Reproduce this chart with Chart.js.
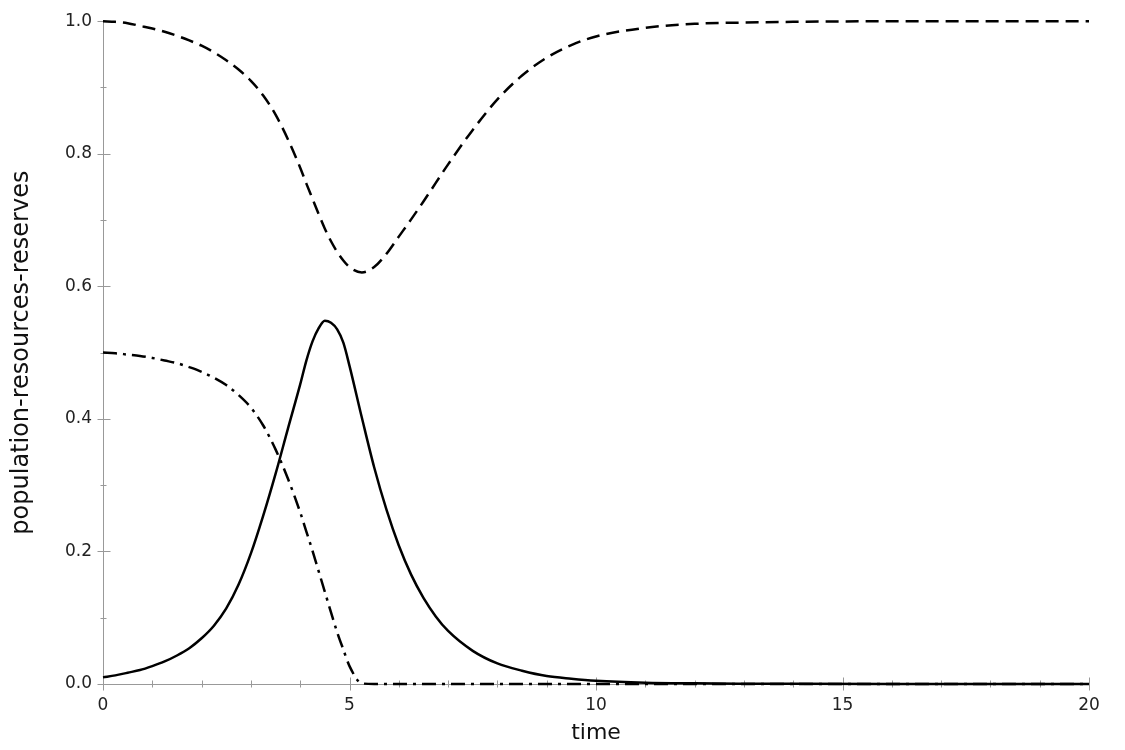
<!DOCTYPE html>
<html>
<head>
<meta charset="utf-8">
<script src="https://cdn.jsdelivr.net/npm/chart.js@4.4.1/dist/chart.umd.min.js"></script>
<style>
html,body{margin:0;padding:0;background:#fff;}
canvas{display:block;}
</style>
</head>
<body>
<canvas id="c" width="1125" height="750"></canvas>
<script>
const timeValues = [0,0.25,0.5,0.75,1,1.25,1.5,1.75,2,2.25,2.5,2.75,3,3.25,3.5,3.75,4,4.125,4.25,4.375,4.5,4.625,4.75,4.875,5,5.25,5.5,5.75,6,6.25,6.5,6.75,7,7.5,8,8.5,9,9.5,10,11,12,13,14,16,18,20];
const population = [0.010,0.013,0.017,0.021,0.027,0.034,0.043,0.054,0.069,0.088,0.114,0.150,0.197,0.254,0.317,0.385,0.452,0.488,0.517,0.537,0.548,0.545,0.535,0.515,0.480,0.402,0.327,0.263,0.209,0.165,0.130,0.102,0.080,0.050,0.031,0.020,0.012,0.008,0.005,0.002,0.001,0.0005,0.0002,0,0,0];
const resources = [1.000,0.999,0.997,0.993,0.989,0.984,0.978,0.971,0.963,0.953,0.941,0.927,0.910,0.888,0.859,0.822,0.779,0.755,0.732,0.709,0.687,0.668,0.652,0.639,0.629,0.621,0.629,0.649,0.675,0.701,0.728,0.756,0.784,0.836,0.882,0.918,0.945,0.964,0.977,0.990,0.996,0.998,0.999,1,1,1];
const reserves = [0.500,0.499,0.497,0.495,0.492,0.488,0.484,0.478,0.471,0.462,0.451,0.436,0.417,0.390,0.354,0.310,0.259,0.230,0.201,0.170,0.139,0.108,0.078,0.052,0.027,0.001,0,0,0,0,0,0,0,0,0,0,0,0,0,0,0,0,0,0,0,0];
const xMajorTicks = [0,5,10,15,20];
const yMajorTicks = [0,0.2,0.4,0.6,0.8,1.0];

const pts = arr => timeValues.map((t,i)=>({x:t,y:arr[i]}));

const tickPlugin = {
  id:'ticksPlugin',
  beforeDatasetsDraw(chart){
    const ctx = chart.ctx, xs = chart.scales.x, ys = chart.scales.y;
    const ax = Math.round(xs.left)+0.5, ay = Math.round(ys.bottom)+0.5;
    ctx.save();
    ctx.strokeStyle = '#999';
    ctx.lineWidth = 1;
    ctx.beginPath();
    for (let i=0;i<=10;i++){
      const v = i/10;
      const py = Math.round(ys.getPixelForValue(v))+0.5;
      const major = i%2===0;
      ctx.moveTo(ax-(major?6:3), py);
      ctx.lineTo(ax+(major?7:3), py);
    }
    for (let i=0;i<=20;i++){
      const px = Math.round(xs.getPixelForValue(i))+0.5;
      const major = i%5===0;
      ctx.moveTo(px, ay-(major?7:4));
      ctx.lineTo(px, ay+(major?6:3));
    }
    ctx.stroke();
    ctx.restore();
  }
};

new Chart(document.getElementById('c'), {
  type:'line',
  data:{
    datasets:[
      {label:'resources', data:pts(resources), borderColor:'#000', borderWidth:2.5, borderDash:[13,7], pointRadius:0, cubicInterpolationMode:'monotone', fill:false, clip:false},
      {label:'population', data:pts(population), borderColor:'#000', borderWidth:2.5, pointRadius:0, cubicInterpolationMode:'monotone', fill:false, clip:false},
      {label:'reserves', data:pts(reserves), borderColor:'#000', borderWidth:2.5, borderDash:[14,6,3,6], pointRadius:0, cubicInterpolationMode:'monotone', fill:false, clip:false}
    ]
  },
  options:{
    responsive:false,
    animation:false,
    devicePixelRatio:1,
    layout:{padding:{top:17,right:36,left:0,bottom:0}},
    plugins:{legend:{display:false}, tooltip:{enabled:false}},
    scales:{
      x:{
        type:'linear', min:0, max:20,
        afterBuildTicks(s){ s.ticks = xMajorTicks.map(v=>({value:v})); },
        afterFit(s){ s.height = 66; },
        grid:{display:false, drawTicks:false},
        border:{display:true, color:'#999', width:1},
        ticks:{color:'#222', font:{family:'DejaVu Sans', size:17}, padding:11, maxRotation:0, callback:v=>String(v)},
        title:{display:true, text:'time', color:'#111', font:{family:'DejaVu Sans', size:22}, padding:{top:0,bottom:4}}
      },
      y:{
        type:'linear', min:0, max:1,
        afterBuildTicks(s){ s.ticks = yMajorTicks.map(v=>({value:v})); },
        afterFit(s){ s.width = 103; },
        grid:{display:false, drawTicks:false},
        border:{display:true, color:'#999', width:1},
        ticks:{color:'#222', font:{family:'DejaVu Sans', size:17}, padding:11, callback:v=>Number(v).toFixed(1)},
        title:{display:true, text:'population-resources-reserves', color:'#111', font:{family:'DejaVu Sans', size:24}, padding:{top:7,bottom:0}}
      }
    }
  },
  plugins:[tickPlugin]
});
</script>
</body>
</html>
